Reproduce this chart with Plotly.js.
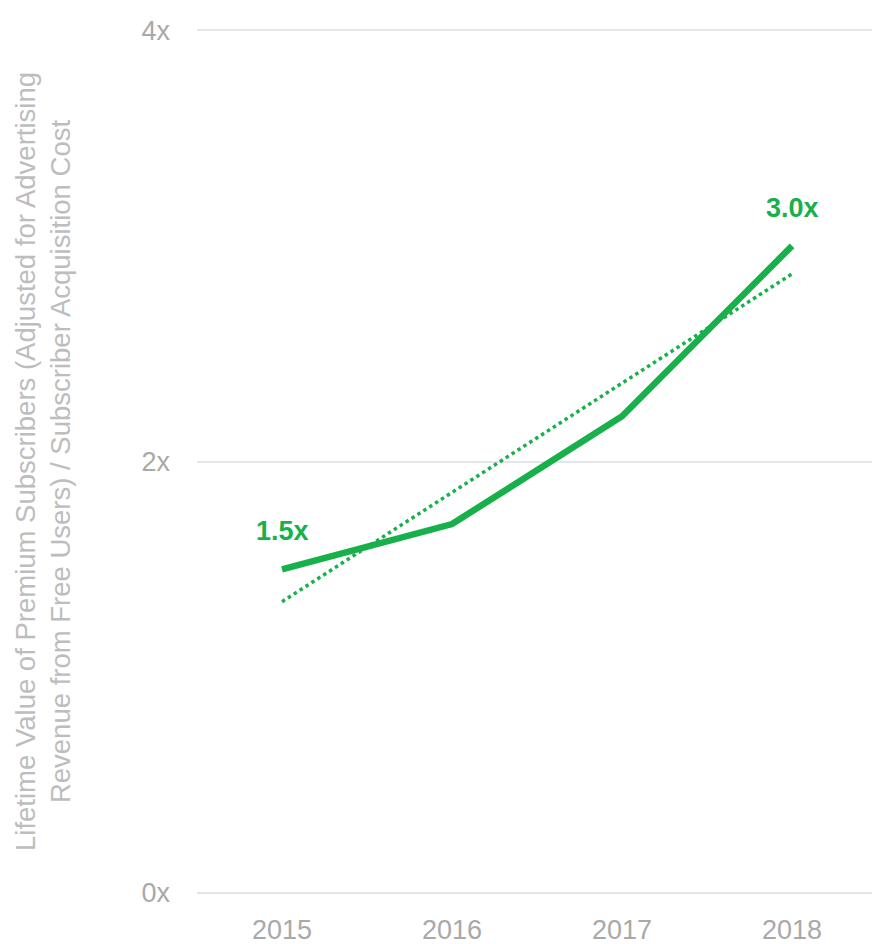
<!DOCTYPE html>
<html><head><meta charset="utf-8">
<script src="https://cdn.plot.ly/plotly-3.0.1.min.js"></script>
<style>html,body{margin:0;padding:0;background:#fff}#chart{width:872px;height:944px}</style>
</head><body><div id="chart"></div>
<script>
const years = ['2015', '2016', '2017', '2018'];
const ltvRatio = [1.5, 1.71, 2.21, 3.0];
const trendYears = ['2015', '2018'];
const trendValues = [1.35, 2.87];
const yTicks = [0, 2, 4];
const yTickText = ['0x', '2x', '4x'];
const labelYears = ['2015', '2018'];
const labelValues = [1.5, 3.0];
const labelTexts = ['1.5x', '3.0x'];

const green = '#18b04a';

const traces = [
  {x: trendYears, y: trendValues, type: 'scatter', mode: 'lines',
   line: {color: green, width: 3.5, dash: 'dot'}, hoverinfo: 'skip'},
  {x: years, y: ltvRatio, type: 'scatter', mode: 'lines',
   line: {color: green, width: 6.5}, hoverinfo: 'skip'}
];

const annotations = labelYears.map((yr, i) => ({
  x: years.indexOf(yr), y: labelValues[i], xref: 'x', yref: 'y',
  text: '<b>' + labelTexts[i] + '</b>', showarrow: false, yshift: 38,
  font: {color: green, size: 27, family: 'Liberation Sans, Arial, sans-serif'}
}));

const layout = {
  width: 872, height: 944,
  margin: {l: 197, r: 0, t: 28, b: 49},
  paper_bgcolor: '#fff', plot_bgcolor: '#fff',
  showlegend: false,
  font: {family: 'Liberation Sans, Arial, sans-serif', color: '#a9a9a9'},
  xaxis: {
    type: 'category', categoryorder: 'array', categoryarray: years,
    range: [-0.5, 3.47], showgrid: false, zeroline: false,
    showline: false, ticks: '', ticklabelstandoff: 16,
    tickfont: {size: 27, color: '#a9a9a9'}, fixedrange: true
  },
  yaxis: {
    range: [-0.01, 4.01], tickvals: yTicks, ticktext: yTickText,
    showgrid: true, gridcolor: '#e1e6ea', gridwidth: 2, zeroline: false, showline: false,
    ticks: '', ticklabelstandoff: 26, tickfont: {size: 27, color: '#a9a9a9'},
    automargin: false,
    title: {text: 'Lifetime Value of Premium Subscribers (Adjusted for Advertising<br>Revenue from Free Users) / Subscriber Acquisition Cost',
      font: {size: 27.5, color: '#bdbdbd'}, standoff: 62}
  },
  annotations: annotations
};

Plotly.newPlot('chart', traces, layout, {displayModeBar: false});
</script></body></html>
